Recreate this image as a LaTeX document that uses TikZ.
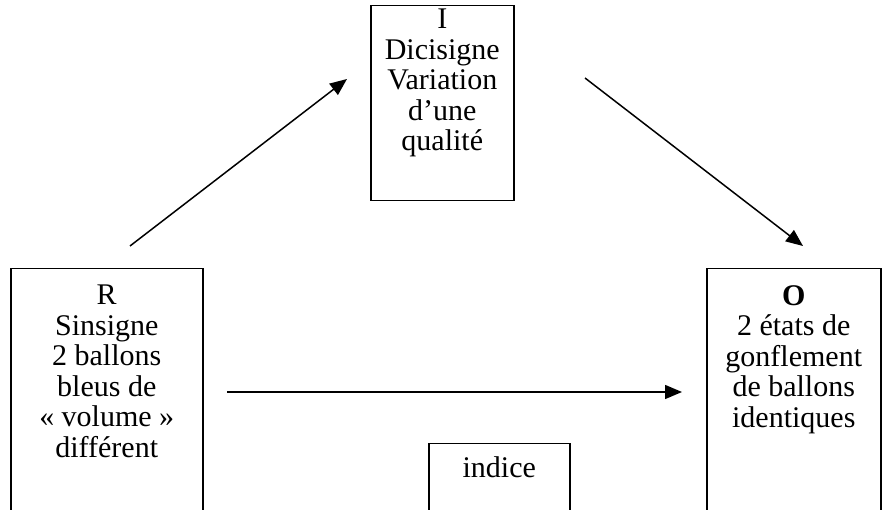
\documentclass[tikz,border=0pt]{standalone}
\usepackage{fontspec}
\setmainfont{Liberation Serif}
\usetikzlibrary{arrows.meta}
\begin{document}
\begin{tikzpicture}[x=1pt,y=-1pt,
  boxframe/.style={draw=black,line width=1.5pt,rectangle,inner sep=0pt,anchor=north west},
  boxtext/.style={anchor=north,align=center,inner sep=0pt,font=\fontsize{30}{30.5}\selectfont},
  arr/.style={line width=1.5pt,-{Triangle[length=17pt,width=14pt]}}]
\useasboundingbox (0,0) rectangle (887,510);
\clip (0,0) rectangle (887,510);
% boxes
\node[boxframe,minimum width=143pt,minimum height=195pt] (Ibox) at (370,5) {};
\node[boxframe,minimum width=192pt,minimum height=262pt] (Rbox) at (10,268) {};
\node[boxframe,minimum width=174pt,minimum height=262pt] (Obox) at (706,268) {};
\node[boxframe,minimum width=141pt,minimum height=87pt] (Xbox) at (428,443) {};
% texts
\node[boxtext] (Itext) at ([yshift=-4pt]Ibox.north) {I\\Dicisigne\\Variation\\d’une\\qualité};
\node[boxtext] (Rtext) at ([yshift=-17pt]Rbox.north) {R\\Sinsigne\\2 ballons\\bleus de\\« volume »\\différent};
\node[boxtext] (Otext) at ([yshift=-17pt]Obox.north) {\textbf{O}\\2 états de\\gonflement\\de ballons\\identiques};
\node[boxtext] (Xtext) at ([yshift=-13pt]Xbox.north) {indice};
% arrow ends
\coordinate (a1s) at (130,246);
\coordinate (a1e) at (347,79);
\coordinate (a2s) at (585,78);
\coordinate (a2e) at (803,246);
\coordinate (a3s) at (227,392);
\coordinate (a3e) at (682,392);
\draw[arr] (a1s) -- (a1e);
\draw[arr] (a2s) -- (a2e);
\draw[arr] (a3s) -- (a3e);
\end{tikzpicture}
\end{document}
